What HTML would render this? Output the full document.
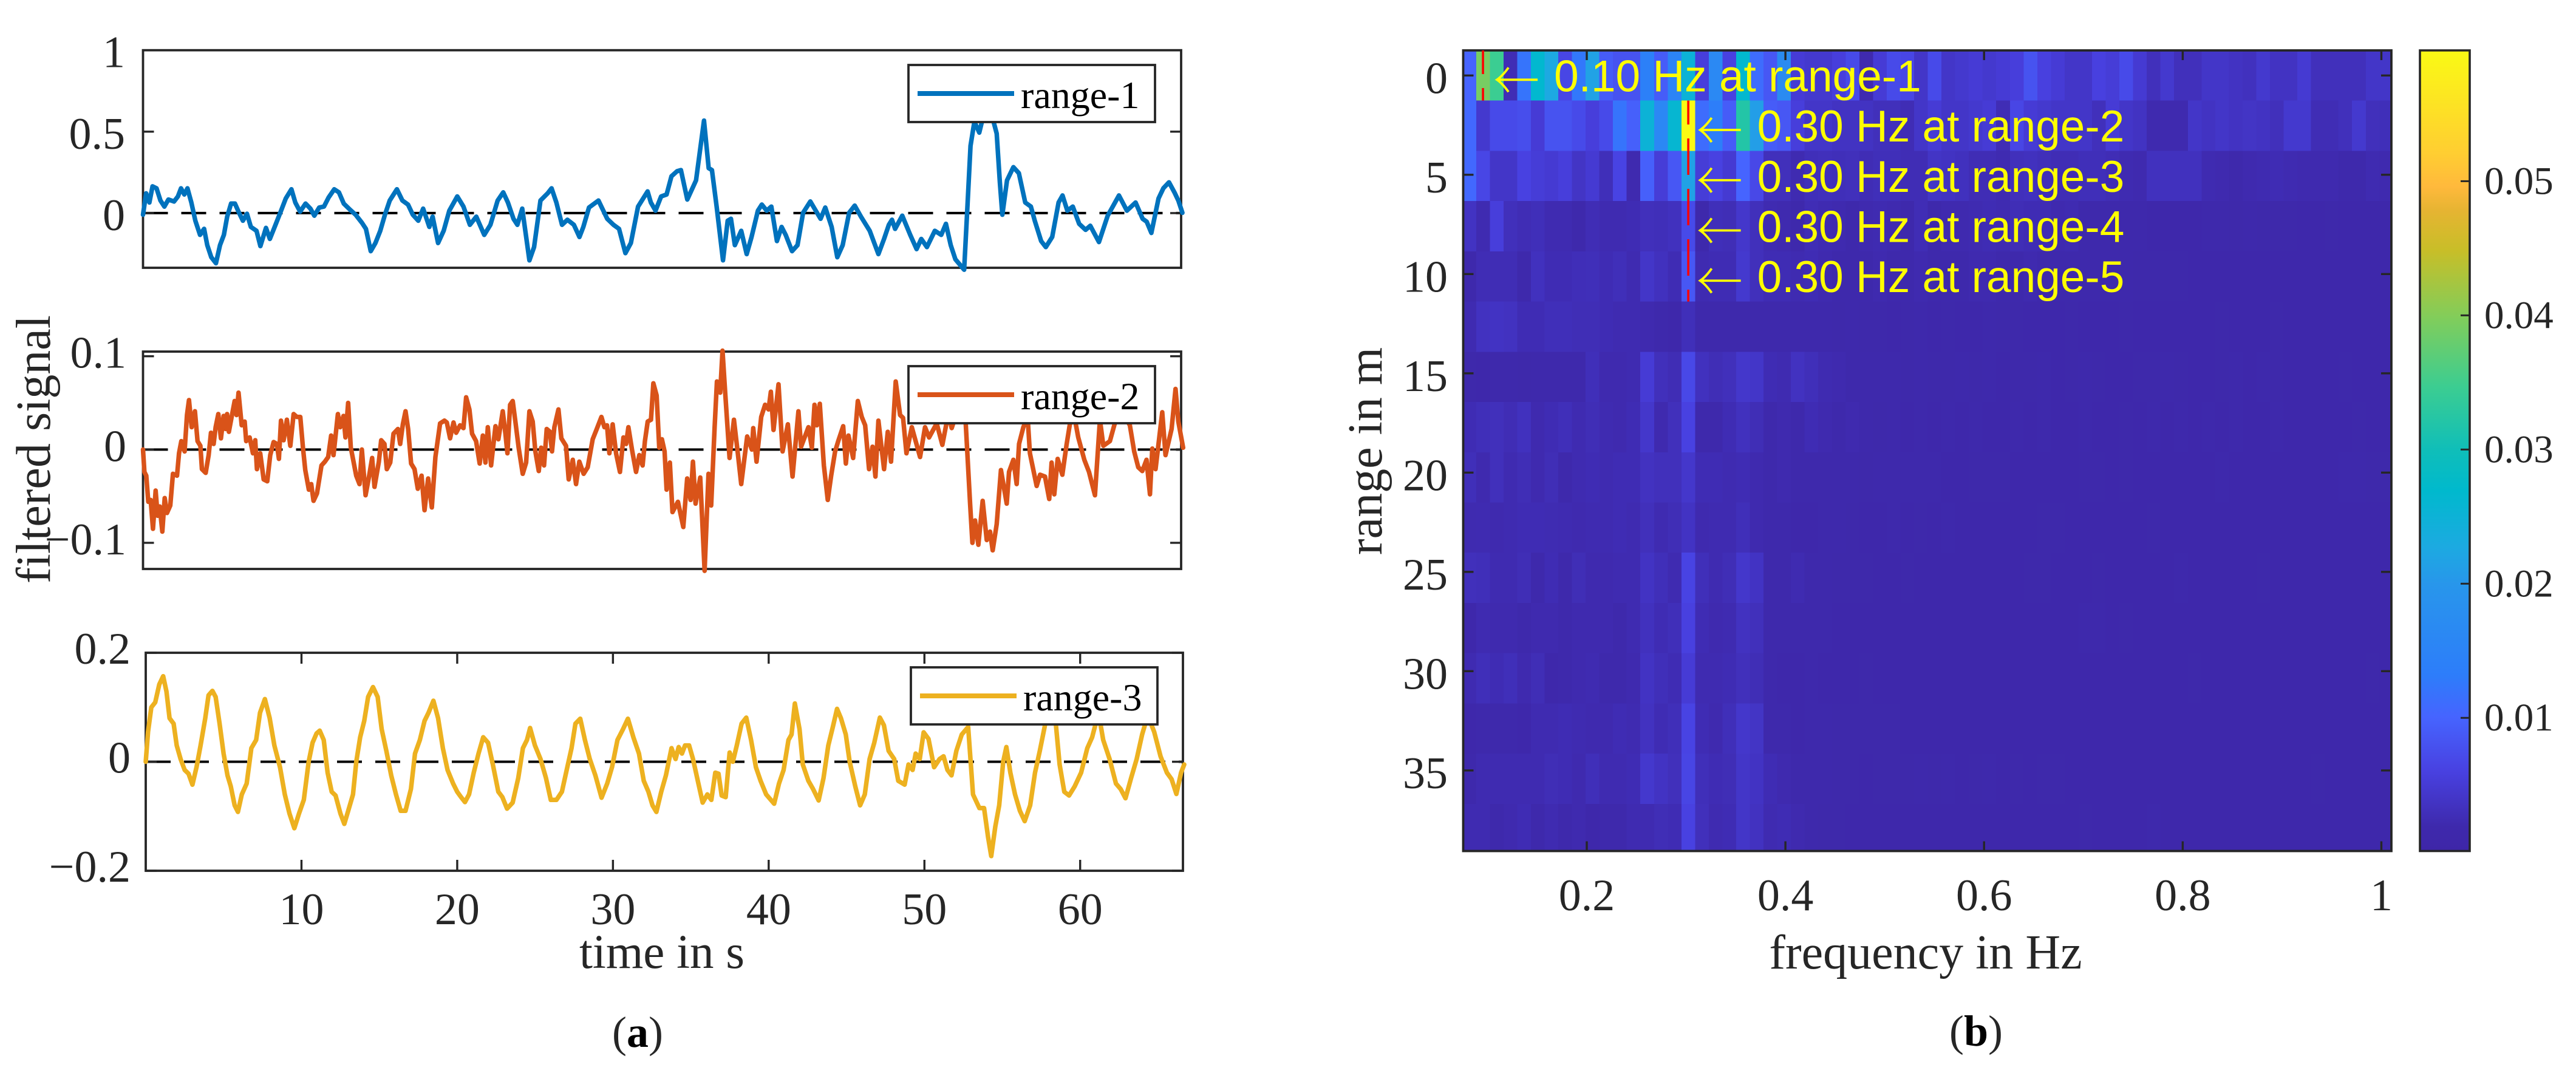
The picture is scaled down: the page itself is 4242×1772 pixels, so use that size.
<!DOCTYPE html>
<html lang="en">
<head>
<meta charset="utf-8">
<title>Filtered signals and range-frequency map</title>
<style>
html,body{margin:0;padding:0;background:#fff;}
svg{display:block;}
text{font-family:"Liberation Serif",serif;fill:#262626;}
</style>
</head>
<body>
<svg id="chart" xmlns="http://www.w3.org/2000/svg" width="4242" height="1772" viewBox="0 0 4242 1772">
<defs>
<linearGradient id="cbar-gradient" x1="0" y1="1" x2="0" y2="0"></linearGradient>
<clipPath id="heat-clip"><rect x="2409.5" y="83" width="1528.5" height="1318.5"></rect></clipPath>
</defs>
<rect x="0" y="0" width="4242" height="1772" fill="#fff"></rect>
<g id="panel-a"></g>
<g id="panel-b"></g>
<text font-size="80" text-anchor="middle" transform="translate(82,740) rotate(-90)">filtered signal</text>
<text font-size="79" x="1090" y="1594" text-anchor="middle">time in s</text>
<text font-size="80" x="3171" y="1595" text-anchor="middle">frequency in Hz</text>
<text font-size="80" text-anchor="middle" transform="translate(2275,743) rotate(-90)">range in m</text>
<text font-size="72" x="1050" y="1724" text-anchor="middle">(<tspan font-weight="bold" fill="#000">a</tspan>)</text>
<text font-size="72" x="3254" y="1722" text-anchor="middle">(<tspan font-weight="bold" fill="#000">b</tspan>)</text>
</svg>
<script>
/* ---------- time series ---------- */
const range1Times = [0,.2,.41,.61,.87,1.12,1.37,1.63,1.99,2.24,2.44,2.65,2.85,3.1,3.36,3.66,3.92,4.12,4.38,4.68,4.94,5.19,5.4,5.65,5.9,6.16,6.41,6.67,6.92,7.28,7.53,7.89,8.14,8.5,8.86,9.16,9.52,9.77,10.08,10.43,10.74,10.99,11.3,11.61,11.91,12.27,12.57,12.88,13.28,13.64,14.05,14.3,14.61,14.91,15.22,15.52,15.83,16.29,16.64,17.0,17.31,17.66,17.97,18.37,18.58,18.93,19.29,19.65,20.16,20.56,20.97,21.38,21.89,22.29,22.75,23.11,23.41,23.77,24.02,24.33,24.79,25.09,25.5,25.96,26.21,26.52,26.88,27.23,27.64,28.0,28.25,28.61,29.22,29.78,30.18,30.54,30.95,31.3,31.76,32.37,32.58,32.88,33.24,33.59,33.9,34.26,34.51,34.92,35.48,35.99,36.29,36.5,36.8,37.21,37.51,37.72,37.97,38.38,38.73,39.04,39.45,39.7,40.01,40.31,40.67,40.97,41.23,41.64,41.99,42.35,42.81,43.16,43.47,43.77,44.18,44.54,44.89,45.3,45.66,46.06,46.62,47.18,47.54,47.85,48.05,48.25,48.71,49.22,49.63,49.93,50.29,50.8,51.21,51.51,51.82,52.12,52.68,52.89,53.09,53.34,53.65,53.95,54.46,54.77,54.97,55.13,55.43,55.84,56.19,56.6,56.96,57.21,57.62,57.92,58.33,58.74,58.99,59.3,59.65,60.06,60.47,60.77,61.33,61.89,62.61,63.12,63.68,64.13,64.39,64.69,65.15,65.46,65.82,66.17,66.42,66.68];
const range1Values = [-.01,.121,.065,.164,.152,.077,.04,.083,.071,.102,.152,.114,.152,.065,-.047,-.134,-.097,-.197,-.271,-.308,-.197,-.134,-.022,.058,.058,.002,-.047,-.004,-.085,-.109,-.203,-.091,-.159,-.072,.015,.09,.146,.065,.009,.058,.027,-.016,.034,.04,.096,.146,.127,.058,.021,-.01,-.06,-.097,-.234,-.184,-.109,-.01,.077,.146,.077,.052,-.01,-.047,.027,-.085,-.022,-.184,-.109,.015,.102,.04,-.072,-.022,-.134,-.072,.077,.127,.065,-.035,-.072,.027,-.29,-.209,.077,.121,.152,.065,-.072,-.041,-.072,-.147,-.085,.034,.077,-.035,-.072,-.097,-.246,-.184,.04,.133,.065,.015,.102,.114,.226,.257,.264,.083,.201,.568,.276,.264,.04,-.29,-.047,-.035,-.197,-.109,-.252,-.147,.015,.052,.015,.04,-.172,-.085,-.134,-.234,-.197,.002,.071,.015,-.035,.034,-.085,-.271,-.197,.002,.046,-.022,-.109,-.252,-.159,-.072,-.041,-.097,-.016,-.134,-.221,-.159,-.209,-.109,-.134,-.066,-.197,-.284,-.348,.04,.413,.562,.494,.612,.6,.488,.189,-.01,.201,.282,.245,.065,.04,-.047,-.172,-.209,-.147,.065,.108,.015,.04,-.066,-.103,-.078,-.178,-.016,.108,.015,.065,-.035,-.053,-.122,.09,.152,.189,.127,.077,.002];

const range2Times = [0,.09,.21,.34,.49,.64,.81,.94,1.07,1.24,1.39,1.54,1.75,1.92,2.18,2.31,2.46,2.67,2.82,2.95,3.12,3.33,3.5,3.68,3.78,4.02,4.21,4.36,4.53,4.66,4.83,5.0,5.17,5.3,5.39,5.51,5.73,5.88,6.0,6.13,6.33,6.52,6.62,6.84,7.05,7.2,7.31,7.52,7.74,7.97,8.16,8.38,8.59,8.72,8.85,9.02,9.23,9.45,9.66,9.87,10.09,10.26,10.41,10.64,10.79,10.94,11.16,11.45,11.67,11.88,12.07,12.22,12.5,12.65,12.86,12.99,13.16,13.33,13.46,13.68,13.89,14.04,14.28,14.49,14.7,14.85,15.13,15.28,15.49,15.64,15.86,16.07,16.35,16.5,16.67,16.84,17.01,17.2,17.42,17.63,17.87,18.06,18.29,18.53,18.76,19.06,19.34,19.49,19.7,19.92,20.09,20.34,20.56,20.73,20.94,21.11,21.37,21.6,21.8,21.97,22.12,22.33,22.61,22.8,23.08,23.25,23.38,23.55,23.72,23.89,24.1,24.36,24.58,24.79,25.0,25.17,25.39,25.54,25.73,25.9,26.11,26.24,26.39,26.65,26.84,27.14,27.31,27.57,27.78,27.99,28.27,28.53,28.85,29.11,29.41,29.6,29.77,29.92,30.13,30.35,30.6,30.82,30.99,31.14,31.37,31.63,31.84,32.05,32.2,32.38,32.59,32.74,32.95,33.12,33.29,33.46,33.59,33.8,33.97,34.32,34.66,34.91,35.13,35.28,35.45,35.75,36.03,36.28,36.45,36.67,36.82,37.03,37.18,37.35,37.63,37.91,38.16,38.38,38.76,39.06,39.15,39.36,39.66,39.91,40.13,40.28,40.45,40.77,41.03,41.37,41.67,42.05,42.22,42.69,42.91,43.08,43.23,43.42,43.68,43.93,44.15,44.4,44.62,44.92,45.09,45.26,45.56,45.86,46.11,46.33,46.58,46.8,46.99,47.18,47.54,47.78,47.99,48.29,48.57,48.76,48.98,49.32,49.85,50.17,50.43,50.92,51.28,51.67,51.88,52.31,52.78,53.06,53.21,53.38,53.59,53.87,54.13,54.34,54.51,54.77,55.04,55.41,55.56,55.84,56.05,56.2,56.48,56.75,56.9,57.33,57.55,57.87,58.14,58.29,58.46,58.68,58.98,59.25,59.47,59.79,60.0,60.39,60.69,61.07,61.39,61.61,62.03,62.31,62.67,63.31,63.59,63.85,64.11,64.38,64.6,64.75,64.96,65.39,65.6,65.99,66.24,66.42,66.73];
const range2Values = [0,-.024,-.028,-.056,-.054,-.085,-.044,-.071,-.061,-.088,-.052,-.068,-.06,-.026,-.028,-.004,.009,-.002,.037,.053,.024,.041,.009,.004,-.021,-.025,-.006,.018,.006,.024,.038,.012,.036,.022,.038,.019,.039,.052,.037,.061,.026,.03,.009,.013,-.004,.01,-.021,-.004,-.032,-.034,-.006,.008,.006,-.01,.031,.01,.032,.004,.038,.035,.035,.002,-.022,-.043,-.037,-.055,-.047,-.017,-.013,-.008,.015,-.006,.038,.024,.036,.013,.05,.002,-.009,-.028,-.037,0,-.049,-.03,-.009,-.04,-.013,.01,.006,-.021,-.014,.017,.022,.006,.027,.041,.022,-.015,-.021,-.042,-.028,-.065,-.031,-.062,-.008,.028,.031,.029,.012,.029,.018,.026,.023,.056,.043,.017,.009,-.015,.015,-.014,.024,-.017,.025,.011,.041,.017,-.004,.048,.052,.03,.002,-.026,-.014,.041,.03,-.002,-.023,.002,-.017,.022,.019,-.002,.024,.043,.012,.004,-.032,-.011,-.037,-.013,-.026,-.019,.011,.022,.035,.024,.026,-.004,.027,-.004,-.024,.013,.006,.024,0,-.024,-.006,-.017,.009,.03,.032,.071,.058,.002,.011,-.002,-.043,-.014,-.067,-.056,-.083,-.031,-.054,-.013,-.058,-.03,-.13,-.026,-.06,.024,.073,.061,.106,.061,-.009,.032,-.004,-.037,.014,0,.023,-.013,.035,.048,.043,.062,.021,.07,-.002,.027,-.029,.041,.003,.024,.002,.048,.026,.049,-.017,-.054,-.028,-.002,.01,.025,-.015,.015,-.009,.052,.035,.026,-.021,.003,-.029,.031,-.021,.019,-.013,.073,.037,.034,-.004,.024,-.008,.024,.013,.028,.005,.039,.023,.045,.028,-.058,-.1,-.076,-.102,-.055,-.097,-.088,-.108,-.08,-.022,-.058,-.024,-.011,-.037,.006,.024,.035,-.004,-.039,-.027,-.029,-.053,-.014,-.048,-.01,-.027,.005,.028,.032,.013,-.011,-.024,-.049,.032,.004,.009,.026,.045,.026,-.002,-.019,-.023,-.011,-.048,.001,-.021,.04,-.006,.022,.065,.03,.002];

const range3Times = [0,.15,.36,.61,.87,1.12,1.33,1.53,1.79,1.99,2.24,2.5,2.75,3.0,3.26,3.52,3.82,4.03,4.28,4.49,4.74,5.0,5.25,5.46,5.71,5.92,6.17,6.48,6.78,7.09,7.34,7.65,7.96,8.26,8.62,8.93,9.23,9.54,9.84,10.15,10.46,10.71,10.97,11.17,11.43,11.68,11.94,12.19,12.5,12.75,13.0,13.31,13.52,13.77,14.03,14.28,14.59,14.89,15.15,15.45,15.76,16.07,16.37,16.68,17.03,17.29,17.6,17.9,18.16,18.47,18.77,19.08,19.38,19.74,20.0,20.25,20.5,20.76,21.06,21.37,21.67,21.98,22.29,22.64,22.9,23.2,23.56,23.92,24.22,24.48,24.68,24.99,25.35,25.7,26.01,26.37,26.72,27.03,27.34,27.59,27.9,28.2,28.51,28.87,29.27,29.63,29.94,30.29,30.65,30.96,31.31,31.67,31.98,32.28,32.54,32.79,33.1,33.4,33.76,34.02,34.22,34.43,34.63,34.89,35.14,35.45,35.76,36.06,36.32,36.57,36.78,36.98,37.24,37.49,37.7,37.95,38.26,38.56,38.87,39.18,39.48,39.84,40.35,40.66,40.96,41.27,41.47,41.68,41.98,42.19,42.55,42.85,43.21,43.52,43.83,44.13,44.39,44.64,44.95,45.2,45.56,45.87,46.17,46.48,46.78,47.14,47.4,47.7,48.06,48.32,48.73,48.98,49.24,49.44,49.7,49.95,50.26,50.62,50.97,51.23,51.48,51.74,52.05,52.4,52.81,53.12,53.53,53.83,54.09,54.29,54.55,54.8,55.06,55.26,55.52,55.82,56.13,56.44,56.79,57.1,57.41,57.76,58.12,58.42,58.68,58.98,59.29,59.65,60.06,60.46,60.77,61.18,61.48,61.89,62.3,62.6,62.91,63.27,63.63,63.98,64.34,64.75,65.16,65.57,65.87,66.18,66.48,66.68];
const range3Values = [0,.055,.1,.109,.142,.157,.129,.08,.07,.03,.005,-.015,-.022,-.042,-.01,.03,.08,.122,.13,.119,.07,.015,-.025,-.045,-.08,-.092,-.06,-.04,.025,.04,.09,.115,.08,.03,-.01,-.06,-.095,-.122,-.095,-.07,0,.035,.052,.057,.04,-.02,-.055,-.062,-.095,-.114,-.09,-.06,0,.045,.075,.119,.137,.119,.06,.02,-.025,-.06,-.09,-.09,-.05,.015,.04,.075,.09,.112,.08,.025,-.015,-.04,-.055,-.065,-.074,-.06,-.02,.015,.045,.035,-.005,-.055,-.065,-.086,-.075,-.03,.025,.04,.062,.03,.005,-.03,-.07,-.07,-.055,-.015,.025,.07,.079,.04,.005,-.025,-.066,-.04,-.01,.04,.06,.079,.045,.015,-.035,-.055,-.08,-.092,-.055,-.025,.025,.005,.027,.015,.03,.03,.005,-.035,-.075,-.06,-.07,-.02,-.022,-.062,-.065,.017,0,.03,.07,.081,.04,-.01,-.035,-.06,-.077,-.04,-.015,.04,.05,.107,.06,-.005,-.035,-.05,-.071,-.03,.03,.065,.097,.08,.05,0,-.045,-.08,-.06,.005,.035,.081,.067,.02,.005,-.035,-.042,-.005,-.015,.015,.005,.054,.042,-.01,.005,.01,-.015,-.025,.02,.05,.064,-.06,-.085,-.085,-.139,-.173,-.119,-.08,0,.027,-.02,-.06,-.09,-.109,-.08,-.02,.02,.07,.095,.075,-.005,-.055,-.062,-.045,-.02,.025,.045,.09,.04,.005,-.04,-.05,-.067,-.03,.005,.05,.085,.055,.01,-.02,-.032,-.059,-.02,-.005];

const seriesNames = ['range-1','range-2','range-3'];
const seriesColors = ['#0072BD','#D95319','#EDB120'];
const range1Ticks = [1,0.5,0];
const range1TickLabels = ['1','0.5','0'];
const range2Ticks = [0.1,0,-0.1];
const range2TickLabels = ['0.1','0','\u22120.1'];
const range3Ticks = [0.2,0,-0.2];
const range3TickLabels = ['0.2','0','\u22120.2'];
const timeTicks = [10,20,30,40,50,60];
const timeTickLabels = ['10','20','30','40','50','60'];

/* ---------- heatmap, cell values in units of 1e-4 ---------- */
const heatValues = [
[100,390,345,25,120,265,225,65,125,215,90,80,80,140,90,150,250,55,165,60,265,110,85,170,50,45,45,55,70,20,50,70,65,40,70,40,45,50,45,50,55,80,58,50,40,40,58,52,70,48,30,45,30,30,40,40,35,32,45,35,35,48,30,30,30,30,40,40],
[105,45,70,70,75,50,80,80,70,55,70,120,95,250,160,260,597,110,135,90,320,210,90,85,55,40,40,35,35,35,30,30,25,40,50,40,40,45,50,25,65,50,45,40,40,40,30,50,40,35,20,20,20,40,35,40,35,38,35,30,45,45,25,25,30,45,30,28],
[105,65,40,40,60,52,48,55,38,48,28,62,20,95,52,85,215,52,60,48,100,68,30,30,22,28,30,28,30,25,28,28,25,25,38,35,32,25,25,22,30,32,28,25,25,28,28,25,22,20,32,32,32,32,22,20,18,20,22,24,22,20,20,20,18,18,22,20],
[35,22,55,30,25,28,22,22,18,25,22,22,24,30,28,32,70,18,28,26,42,30,22,20,18,25,22,20,16,20,22,20,18,25,18,20,20,22,24,22,26,24,24,20,22,18,18,16,16,18,14,14,14,14,16,16,15,16,15,15,15,14,14,15,14,14,14,14],
[18,25,25,25,18,32,24,24,27,28,24,28,22,40,32,24,85,22,24,24,45,30,24,24,22,24,20,18,18,18,20,18,18,20,18,18,18,20,20,16,18,20,18,18,18,16,16,16,16,15,15,15,15,14,12,12,12,12,12,14,12,12,12,14,14,12,12,14],
[22,34,36,34,24,24,28,28,26,26,24,22,22,20,18,14,28,18,16,16,18,18,17,17,17,16,16,15,16,15,15,14,15,16,14,15,14,14,16,15,15,14,14,14,15,14,14,13,15,14,14,14,14,14,14,15,14,14,14,15,14,14,14,14,13,14,14,14],
[15,12,18,16,15,18,17,16,16,28,20,20,22,50,30,25,68,32,26,30,42,40,24,22,34,28,22,20,18,18,16,17,15,16,15,15,16,15,16,14,15,15,17,14,15,16,15,14,14,15,15,16,15,14,14,15,16,14,18,15,14,14,14,14,15,14,14,14],
[24,28,30,25,32,20,24,28,22,26,22,20,24,42,20,30,60,18,16,24,32,26,18,20,16,24,20,16,20,18,15,16,14,16,14,18,14,16,13,14,18,14,16,14,14,17,14,14,15,14,16,14,16,14,16,14,17,14,14,16,14,14,14,14,14,15,13,14],
[28,20,30,22,26,20,26,18,22,24,22,24,24,34,30,30,42,24,24,22,24,20,18,20,17,18,16,16,17,15,17,16,18,16,16,14,14,15,15,15,14,14,14,14,14,15,15,14,15,14,14,14,14,14,14,16,14,14,14,14,14,14,13,14,16,16,15,15],
[21,22,20,22,24,24,23,22,20,22,22,24,22,30,22,26,36,20,22,22,28,20,18,16,14,14,18,16,15,14,14,16,14,15,14,16,14,12,14,13,14,14,15,15,14,13,14,14,14,14,15,14,14,14,14,14,14,14,14,14,14,14,14,12,14,14,14,14],
[30,28,22,22,26,16,24,18,26,20,20,22,22,36,28,22,62,28,22,26,42,36,18,18,22,16,16,15,15,15,14,14,15,14,14,14,14,14,14,14,14,15,15,14,14,14,15,14,14,13,14,14,16,14,14,14,14,14,15,14,14,14,14,14,13,14,14,14],
[14,22,20,20,18,20,20,18,20,20,20,18,22,32,24,28,58,24,20,22,34,30,18,16,16,17,16,14,14,14,14,14,13,14,14,14,14,14,14,13,14,14,14,14,14,16,16,14,15,14,14,13,14,14,14,13,14,14,14,14,14,14,14,14,14,14,14,14],
[22,28,24,28,20,26,14,16,20,22,18,18,20,36,28,24,50,22,22,24,30,26,18,14,14,16,14,14,14,15,14,14,14,14,14,14,14,14,14,14,14,14,14,12,14,14,14,14,14,14,14,14,14,15,14,14,14,14,14,14,14,14,14,14,14,14,15,14],
[12,16,16,18,14,22,22,24,22,20,20,24,22,34,24,28,62,24,20,28,42,38,18,16,14,16,16,15,15,15,15,15,14,14,14,14,14,14,14,14,14,14,14,14,14,14,14,14,14,14,14,14,14,14,14,14,14,14,14,14,14,14,14,14,14,14,14,14],
[16,22,22,22,22,22,26,24,20,28,22,22,24,44,36,30,64,28,24,26,40,36,24,20,18,18,18,15,15,14,15,15,15,16,15,16,14,15,16,14,15,14,15,15,14,14,14,14,14,14,14,14,14,14,14,14,14,14,14,14,14,14,15,14,14,14,14,14],
[22,22,18,20,24,16,22,18,20,14,16,18,22,22,26,24,60,30,22,24,40,34,22,24,20,18,15,15,14,14,14,14,14,14,14,14,14,14,14,14,14,14,14,14,14,15,14,14,14,14,17,14,14,14,14,14,14,14,14,14,14,14,14,14,14,14,14,14]
];
const heatStartFrequency = 0.0817;
const heatFrequencyStep = 0.01378;
const heatRangeStep = 2.53;
const frequencyTicks = [0.2,0.4,0.6,0.8,1];
const frequencyTickLabels = ['0.2','0.4','0.6','0.8','1'];
const rangeTicks = [0,5,10,15,20,25,30,35];
const rangeTickLabels = ['0','5','10','15','20','25','30','35'];
const colorbarTicks = [0.01,0.02,0.03,0.04,0.05];
const colorbarTickLabels = ['0.01','0.02','0.03','0.04','0.05'];
const colorStopFractions = [0,.03,.1,.167,.22,.333,.38,.45,.5,.58,.667,.75,.8,.83,.87,1];
const colorStopColors = ['#3e26a8','#3e29ac','#4841e1','#4664ff','#2d7dfa','#2896eb','#1caae1','#00b9cd','#0fbeb9','#3ccd91','#82cd5a','#c8be28','#e6b432','#ffb93c','#ffcd32','#faFA14'];
const peakFrequencies = [0.0955,0.3022,0.3022,0.3022,0.3022];
const peakRows = [0,1,2,3,4];
const peakLabels = ['0.10 Hz at range-1','0.30 Hz at range-2','0.30 Hz at range-3','0.30 Hz at range-4','0.30 Hz at range-5'];

const SVGNS = 'http://www.w3.org/2000/svg';
function make(parent, tag, attrs, txt) {
  const e = document.createElementNS(SVGNS, tag);
  for (const k in attrs) e.setAttribute(k, attrs[k]);
  if (txt !== undefined) e.textContent = txt;
  parent.appendChild(e);
  return e;
}
const panelA = document.getElementById('panel-a');
const panelB = document.getElementById('panel-b');
const INK = '#262626';

/* ---------- axes for the three time series ---------- */
const tDomain = [0, 66.6];
const boxes = [
  {l:235.5,r:1945,t:82.7,b:441,yTop:1,yBottom:-0.336,labelRight:206,labelDrop:28,legend:[1496,1902,107,201]},
  {l:235.5,r:1945,t:579,b:937,yTop:0.105,yBottom:-0.128,labelRight:208,labelDrop:19,legend:[1496,1902,603,697]},
  {l:240,r:1948,t:1075,b:1434,yTop:0.2,yBottom:-0.2,labelRight:215,labelDrop:18,legend:[1500,1906,1099,1193]}
];
const allTimes = [range1Times, range2Times, range3Times];
const allValues = [range1Values, range2Values, range3Values];
const allTicks = [range1Ticks, range2Ticks, range3Ticks];
const allTickLabels = [range1TickLabels, range2TickLabels, range3TickLabels];

boxes.forEach(function (b, i) {
  const xOf = function (t) { return b.l + (t - tDomain[0]) / (tDomain[1] - tDomain[0]) * (b.r - b.l); };
  const yOf = function (v) { return b.t + (b.yTop - v) / (b.yTop - b.yBottom) * (b.b - b.t); };
  const g = make(panelA, 'g', {});
  
  

  const zero = make(g, 'line', {x1:b.l, x2:b.r, y1:yOf(0), y2:yOf(0), stroke:'#000', 'stroke-width':4, 'stroke-dasharray':'41 22'});
  
  

  const frame = make(g, 'rect', {x:b.l, y:b.t, width:b.r-b.l, height:b.b-b.t, fill:'none', stroke:INK, 'stroke-width':3.8});
  
  

  allTicks[i].forEach(function (v, k) {
    const y = yOf(v);
    const d = 'M' + b.l + ' ' + y + 'h18M' + b.r + ' ' + y + 'h-18';
    const tick = make(g, 'path', {d:d, stroke:INK, 'stroke-width':3.4, fill:'none'});
    
    
    const lab = make(g, 'text', {x:b.labelRight, y:y + b.labelDrop, 'text-anchor':'end', 'font-size':74}, allTickLabels[i][k]);
    
    
  });

  if (i === 2) {
    timeTicks.forEach(function (t, k) {
      const x = xOf(t);
      const d = 'M' + x + ' ' + b.t + 'v18M' + x + ' ' + b.b + 'v-18';
      const tick = make(g, 'path', {d:d, stroke:INK, 'stroke-width':3.4, fill:'none'});
      
      
      const lab = make(g, 'text', {x:x, y:1522, 'text-anchor':'middle', 'font-size':74}, timeTickLabels[k]);
      
      
    });
  }

  const pts = allTimes[i].map(function (t, k) { return xOf(t).toFixed(1) + ',' + yOf(allValues[i][k]).toFixed(1); });
  const line = make(g, 'polyline', {points:pts.join(' '), fill:'none', stroke:seriesColors[i], 'stroke-width':7.5, 'stroke-linejoin':'round', 'stroke-linecap':'round'});
  
  

  const L = b.legend;
  const lg = make(g, 'g', {});
  
  
  const box = make(lg, 'rect', {x:L[0], y:L[2], width:L[1]-L[0], height:L[3]-L[2], fill:'#fff', stroke:INK, 'stroke-width':3.8});
  
  
  const sw = make(lg, 'line', {x1:L[0]+15, x2:L[0]+174, y1:L[2]+47, y2:L[2]+47, stroke:seriesColors[i], 'stroke-width':8});
  
  
  const tx = make(lg, 'text', {x:L[0]+185, y:L[2]+71, 'font-size':64, style:'fill:#000'}, seriesNames[i]);
  
  
});

/* ---------- heatmap ---------- */
const hb = {l:2409.5, r:3938, t:83, b:1401.5};
const fx = function (f) { return 2613 + (f - 0.2) * 1635.6; };
const ry = function (m) { return 124.3 + m * 32.7; };
const vmax = 597;
function hex2rgb(h) { return [parseInt(h.substr(1,2),16), parseInt(h.substr(3,2),16), parseInt(h.substr(5,2),16)]; }
function colorOf(v) {
  const t = Math.max(0, Math.min(1, v / vmax));
  for (let i = 1; i < colorStopFractions.length; i++) {
    if (t <= colorStopFractions[i]) {
      const a = colorStopFractions[i-1], c = colorStopFractions[i];
      const u = (t - a) / (c - a);
      const p = hex2rgb(colorStopColors[i-1]), q = hex2rgb(colorStopColors[i]);
      return 'rgb(' + Math.round(p[0]+(q[0]-p[0])*u) + ',' + Math.round(p[1]+(q[1]-p[1])*u) + ',' + Math.round(p[2]+(q[2]-p[2])*u) + ')';
    }
  }
  return colorStopColors[colorStopColors.length-1];
}
const cells = make(panelB, 'g', {'clip-path':'url(#heat-clip)', 'shape-rendering':'crispEdges'});


heatValues.forEach(function (row, r) {
  row.forEach(function (v, c) {
    const f = heatStartFrequency + c * heatFrequencyStep;
    const x0 = fx(f - heatFrequencyStep / 2), x1 = fx(f + heatFrequencyStep / 2);
    const y0 = ry((r - 0.5) * heatRangeStep), y1 = ry((r + 0.5) * heatRangeStep);
    const cell = make(cells, 'rect', {x:x0.toFixed(1), y:y0.toFixed(1), width:(x1-x0+0.6).toFixed(1), height:(y1-y0+0.6).toFixed(1), fill:colorOf(v)});
    
    
  });
});

const hFrame = make(panelB, 'rect', {x:hb.l, y:hb.t, width:hb.r-hb.l, height:hb.b-hb.t, fill:'none', stroke:INK, 'stroke-width':3.8});



frequencyTicks.forEach(function (f, k) {
  const x = fx(f);
  const tick = make(panelB, 'path', {d:'M'+x+' '+hb.t+'v16M'+x+' '+hb.b+'v-16', stroke:INK, 'stroke-width':3.4, fill:'none'});
  
  
  const lab = make(panelB, 'text', {x:x, y:1499, 'text-anchor':'middle', 'font-size':74}, frequencyTickLabels[k]);
  
  
});
rangeTicks.forEach(function (m, k) {
  const y = ry(m);
  const tick = make(panelB, 'path', {d:'M'+hb.l+' '+y+'h17M'+hb.r+' '+y+'h-17', stroke:INK, 'stroke-width':3.4, fill:'none'});
  
  
  const lab = make(panelB, 'text', {x:2384, y:y+29, 'text-anchor':'end', 'font-size':74}, rangeTickLabels[k]);
  
  
});

/* peak markers and annotations */
peakRows.forEach(function (r, k) {
  const x = fx(peakFrequencies[k]);
  const y0 = ry((r - 0.5) * heatRangeStep), y1 = ry((r + 0.5) * heatRangeStep);
  const yc = ry(r * heatRangeStep) + 7;
  const seg = make(panelB, 'line', {x1:x, x2:x, y1:Math.max(y0, hb.t), y2:y1, stroke:'#ff0000', 'stroke-width':3.6});
  
  
  const offset = r === 0 ? 21 : ((y0 - 165) + 20) % 83;
  seg.setAttribute('stroke-dasharray', '60 23');
  seg.setAttribute('stroke-dashoffset', offset.toFixed(1));
  const tip = x + (r === 0 ? 23 : 19.5);
  const arrow = make(panelB, 'path', {d:'M'+(tip+19)+' '+(yc-20)+'Q'+(tip+9)+' '+(yc-6)+' '+tip+' '+yc+'Q'+(tip+9)+' '+(yc+6)+' '+(tip+19)+' '+(yc+20)+'M'+tip+' '+yc+'H'+(tip+67), fill:'none', stroke:'#ffff00', 'stroke-width':3.8});
  
  
  const note = make(panelB, 'text', {x:tip+94, y:yc+19, 'font-size':73, style:'fill:#ffff00;font-family:\'Liberation Sans\',sans-serif'}, peakLabels[k]);
  
  
});

/* ---------- colorbar ---------- */
const gradient = document.getElementById('cbar-gradient');
colorStopFractions.forEach(function (t, i) {
  make(gradient, 'stop', {offset:t, 'stop-color':colorStopColors[i]});
});
const cb = {l:3985, r:4067, t:83, b:1401.5};
const cbY = function (v) { return 298.4 + (0.05 - v) * 22095; };
const cbar = make(panelB, 'rect', {x:cb.l, y:cb.t, width:cb.r-cb.l, height:cb.b-cb.t, fill:'url(#cbar-gradient)', stroke:INK, 'stroke-width':3.6});


colorbarTicks.forEach(function (v, k) {
  const y = cbY(v);
  const tick = make(panelB, 'line', {x1:cb.r, x2:cb.r-15, y1:y, y2:y, stroke:INK, 'stroke-width':3});
  
  
  const lab = make(panelB, 'text', {x:4091, y:y+21, 'font-size':65}, colorbarTickLabels[k]);
  
  
});
</script>
</body>
</html>
